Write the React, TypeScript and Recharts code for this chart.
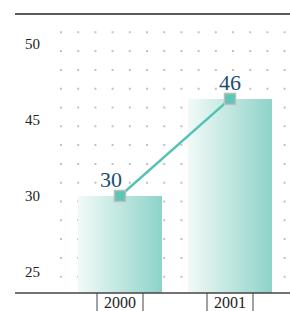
import { ComposedChart, Bar, Line, XAxis, YAxis, CartesianGrid, ReferenceLine, LabelList } from 'recharts';

const years = ['2000', '2001'];
const values = [30, 46];
const yTickValues = [17.5, 30, 42.5, 55];
const yTickLabels = ['25', '30', '45', '50'];

const chartData = years.map((year, i) => ({ year, value: values[i] }));

const serif = { fontFamily: "'Liberation Serif', 'Times New Roman', 'DejaVu Serif', serif" };

const YearTick = (props: any) => {
  const { x, y, payload } = props;
  return (
    <g>
      <line x1={x - 23} y1={y} x2={x - 23} y2={y + 20} stroke="#444" strokeWidth={1} />
      <line x1={x + 23} y1={y} x2={x + 23} y2={y + 20} stroke="#444" strokeWidth={1} />
      <text x={x} y={y + 14.5} textAnchor="middle" style={{ ...serif, fontSize: 16 }} fill="#222">
        {payload.value}
      </text>
    </g>
  );
};

const ValueTick = (props: any) => {
  const { y, index } = props;
  return (
    <text x={40} y={y + 5} textAnchor="end" style={{ ...serif, fontSize: 15 }} fill="#222">
      {yTickLabels[index]}
    </text>
  );
};

const SquareDot = (props: any) => {
  const { cx, cy, index } = props;
  return (
    <rect key={index} x={cx - 5.5} y={cy - 5.5} width={11} height={11}
      fill="#5cc6b7" stroke="#bdbdbd" strokeWidth={1.5} />
  );
};

const DotRow = (props: any) => {
  const { y1, x2 } = props;
  return (
    <line x1={60} y1={y1} x2={x2} y2={y1} stroke="#c2c2c2" strokeWidth={2} strokeDasharray="2 15.2" />
  );
};

const PointLabel = (props: any) => {
  const { x, y, width, value, index } = props;
  const cx = x + (width || 0) / 2;
  // first label sits a little left, clear of the rising line
  const shift = index === 0 ? -9 : 0;
  return (
    <text x={cx + shift} y={y - 9} textAnchor="middle" style={{ ...serif, fontSize: 22 }} fill="#1b4f72">
      {value}
    </text>
  );
};

export default function App() {
  return (
    <div style={{ position: 'absolute', left: 0, top: 0 }}>
      <ComposedChart width={290} height={311} data={chartData}
        margin={{ top: 14, right: 0, bottom: 0, left: 14 }}>
        <defs>
          <linearGradient id="barGrad" x1="0" y1="0" x2="1" y2="0">
            <stop offset="0%" stopColor="#f2faf8" />
            <stop offset="100%" stopColor="#8ed3c8" />
          </linearGradient>
        </defs>
        <XAxis dataKey="year" padding={{ left: 50, right: 5 }} height={18} interval={0}
          tickLine={false} tickSize={0} tickMargin={0} tick={<YearTick />}
          axisLine={{ stroke: '#444', strokeWidth: 1.5 }} />
        <YAxis type="number" domain={[14, 60]} ticks={yTickValues} width={1} interval={0}
          allowDataOverflow tickLine={false} axisLine={false} tick={<ValueTick />} />
        <Bar dataKey="value" barSize={84} fill="url(#barGrad)" isAnimationActive={false} />
        <CartesianGrid vertical={false} horizontal={<DotRow />}
          horizontalCoordinatesGenerator={() => Array.from({ length: 14 }, (_, k) => 32.3 + 18.8 * k)} />
        <ReferenceLine y={60} stroke="#5a5a5a" strokeWidth={2} />
        <Line dataKey="value" stroke="#55c3b3" strokeWidth={2.5} dot={<SquareDot />}
          activeDot={false} isAnimationActive={false}>
          <LabelList dataKey="value" content={<PointLabel />} />
        </Line>
      </ComposedChart>
    </div>
  );
}
